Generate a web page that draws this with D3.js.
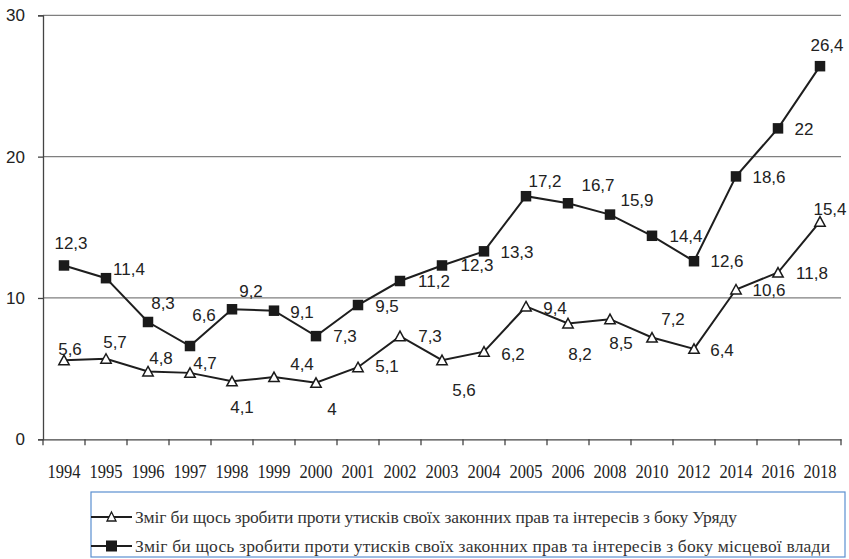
<!DOCTYPE html>
<html><head><meta charset="utf-8">
<script src="https://cdn.jsdelivr.net/npm/d3@7/dist/d3.min.js"></script>
<style>body{margin:0;background:#fff}svg{display:block}</style>
</head><body><div id="chart"></div>
<script>
const years = ["1994","1995","1996","1997","1998","1999","2000","2001","2002","2003","2004","2005","2006","2008","2010","2012","2014","2016","2018"];
const government = [5.6,5.7,4.8,4.7,4.1,4.4,4.0,5.1,7.3,5.6,6.2,9.4,8.2,8.5,7.2,6.4,10.6,11.8,15.4];
const localAuth = [12.3,11.4,8.3,6.6,9.2,9.1,7.3,9.5,11.2,12.3,13.3,17.2,16.7,15.9,14.4,12.6,18.6,22,26.4];
const yTicks = [0,10,20,30];
const seriesNames = [
  "Зміг би щось зробити проти утисків своїх законних прав та інтересів з боку Уряду",
  "Зміг би щось зробити проти утисків своїх законних прав та інтересів з боку місцевої влади"
];
// label offsets (pixels, relative to point)
const govLabelOff = [[6,-11],[9,-17],[13,-13],[15,-10],[10,26],[28,-13],[16,26],[29,-1],[30,0],[22,30],[29,2],[29,2],[12,31],[11,24],[21,-18],[28,1],[33,1],[34,1],[10,-13]];
const locLabelOff = [[7,-22],[23,-9],[15,-19],[14,-31],[19,-18],[28,1],[29,0],[29,1],[34,0],[35,0],[33,1],[19,-15],[30,-18],[27,-15],[34,0],[33,0],[33,1],[26,1],[7,-21]];

(function () {
const W = 849, H = 559;
const svg = d3.select("#chart").append("svg").attr("width", W).attr("height", H);
const mLeft = 43, mRight = 841, mTop = 15.3, mBottom = 439.3;
const x = d3.scaleBand().domain(years).range([mLeft, mRight]).padding(0);
const y = d3.scaleLinear().domain([0, 30]).range([mBottom, mTop]);
const cx = d => x(d) + x.bandwidth() / 2;
const fmt = v => String(v).replace(".", ",");

// gridlines
svg.append("g").selectAll("line").data(yTicks.filter(t => t > 0)).join("line")
  .attr("x1", mLeft).attr("x2", mRight).attr("y1", d => y(d)).attr("y2", d => y(d))
  .attr("stroke", "#7f7f7f").attr("stroke-width", 1.3);

// y axis
const yAxis = d3.axisLeft(y).tickValues(yTicks).tickSize(5).tickPadding(13).tickFormat(d3.format("d"));
const gy = svg.append("g").attr("transform", `translate(${mLeft},0)`).call(yAxis);
gy.select(".domain").attr("stroke", "#444").attr("stroke-width", 1.3);
gy.selectAll(".tick line").attr("stroke", "#444").attr("stroke-width", 1.3);
gy.selectAll(".tick text").attr("font-family", "Liberation Sans, Arial, sans-serif").attr("font-size", 17).attr("fill", "#222");

// x axis
const xAxis = d3.axisBottom(x).tickSize(0).tickPadding(25);
const gx = svg.append("g").attr("transform", `translate(0,${mBottom})`).call(xAxis);
gx.select(".domain").attr("stroke", "#444").attr("stroke-width", 1.3);
gx.selectAll(".tick text").attr("font-family", "Liberation Serif, Times New Roman, serif").attr("font-size", 19)
  .attr("textLength", 33).attr("lengthAdjust", "spacingAndGlyphs").attr("fill", "#222");
// boundary ticks
const bounds = years.map(d => x(d)).concat([mRight]);
svg.append("g").selectAll("line").data(bounds).join("line")
  .attr("x1", d => d).attr("x2", d => d).attr("y1", mBottom).attr("y2", mBottom + 6)
  .attr("stroke", "#444").attr("stroke-width", 1.3);

const line = d3.line().x((d, i) => cx(years[i])).y(d => y(d));

function drawSeries(vals, offs, marker) {
  svg.append("path").datum(vals).attr("d", line).attr("fill", "none")
    .attr("stroke", "#1e1e1e").attr("stroke-width", 2);
  const g = svg.append("g");
  vals.forEach((v, i) => {
    const px = cx(years[i]), py = y(v);
    if (marker === "square") {
      g.append("rect").attr("x", px - 5.25).attr("y", py - 5.25).attr("width", 10.5).attr("height", 10.5).attr("fill", "#1a1a1a");
    } else {
      g.append("path").attr("d", `M${px},${py - 5}L${px + 5.2},${py + 4.5}L${px - 5.2},${py + 4.5}Z`)
        .attr("fill", "#fff").attr("stroke", "#1a1a1a").attr("stroke-width", 1.5);
    }
    g.append("text").attr("x", px + offs[i][0]).attr("y", py + offs[i][1]).attr("dy", "0.35em")
      .attr("text-anchor", "middle").attr("font-family", "Liberation Sans, Arial, sans-serif")
      .attr("font-size", 17).attr("fill", "#222").text(fmt(v));
  });
}
drawSeries(localAuth, locLabelOff, "square");
drawSeries(government, govLabelOff, "triangle");

// legend
const lg = svg.append("g");
lg.append("rect").attr("x", 91).attr("y", 492).attr("width", 754).attr("height", 65)
  .attr("fill", "#fff").attr("stroke", "#5b8fd0").attr("stroke-width", 1.2);
const rows = [517, 546];
const textLens = [602, 695];
seriesNames.forEach((name, i) => {
  const ry = rows[i];
  lg.append("line").attr("x1", 91).attr("x2", 132).attr("y1", ry).attr("y2", ry).attr("stroke", "#1e1e1e").attr("stroke-width", 2);
  if (i === 0) {
    lg.append("path").attr("d", `M111.5,${ry - 5}L116,${ry + 4}L107,${ry + 4}Z`).attr("fill", "#fff").attr("stroke", "#1a1a1a").attr("stroke-width", 1.3);
  } else {
    lg.append("rect").attr("x", 106).attr("y", ry - 5.5).attr("width", 11).attr("height", 11).attr("fill", "#1a1a1a");
  }
  lg.append("text").attr("x", 135).attr("y", ry).attr("dy", "0.35em")
    .attr("font-family", "Liberation Serif, Times New Roman, serif").attr("font-size", 17.5)
    .attr("textLength", textLens[i]).attr("lengthAdjust", "spacing")
    .attr("fill", "#333").text(name);
});
})();
</script></body></html>
